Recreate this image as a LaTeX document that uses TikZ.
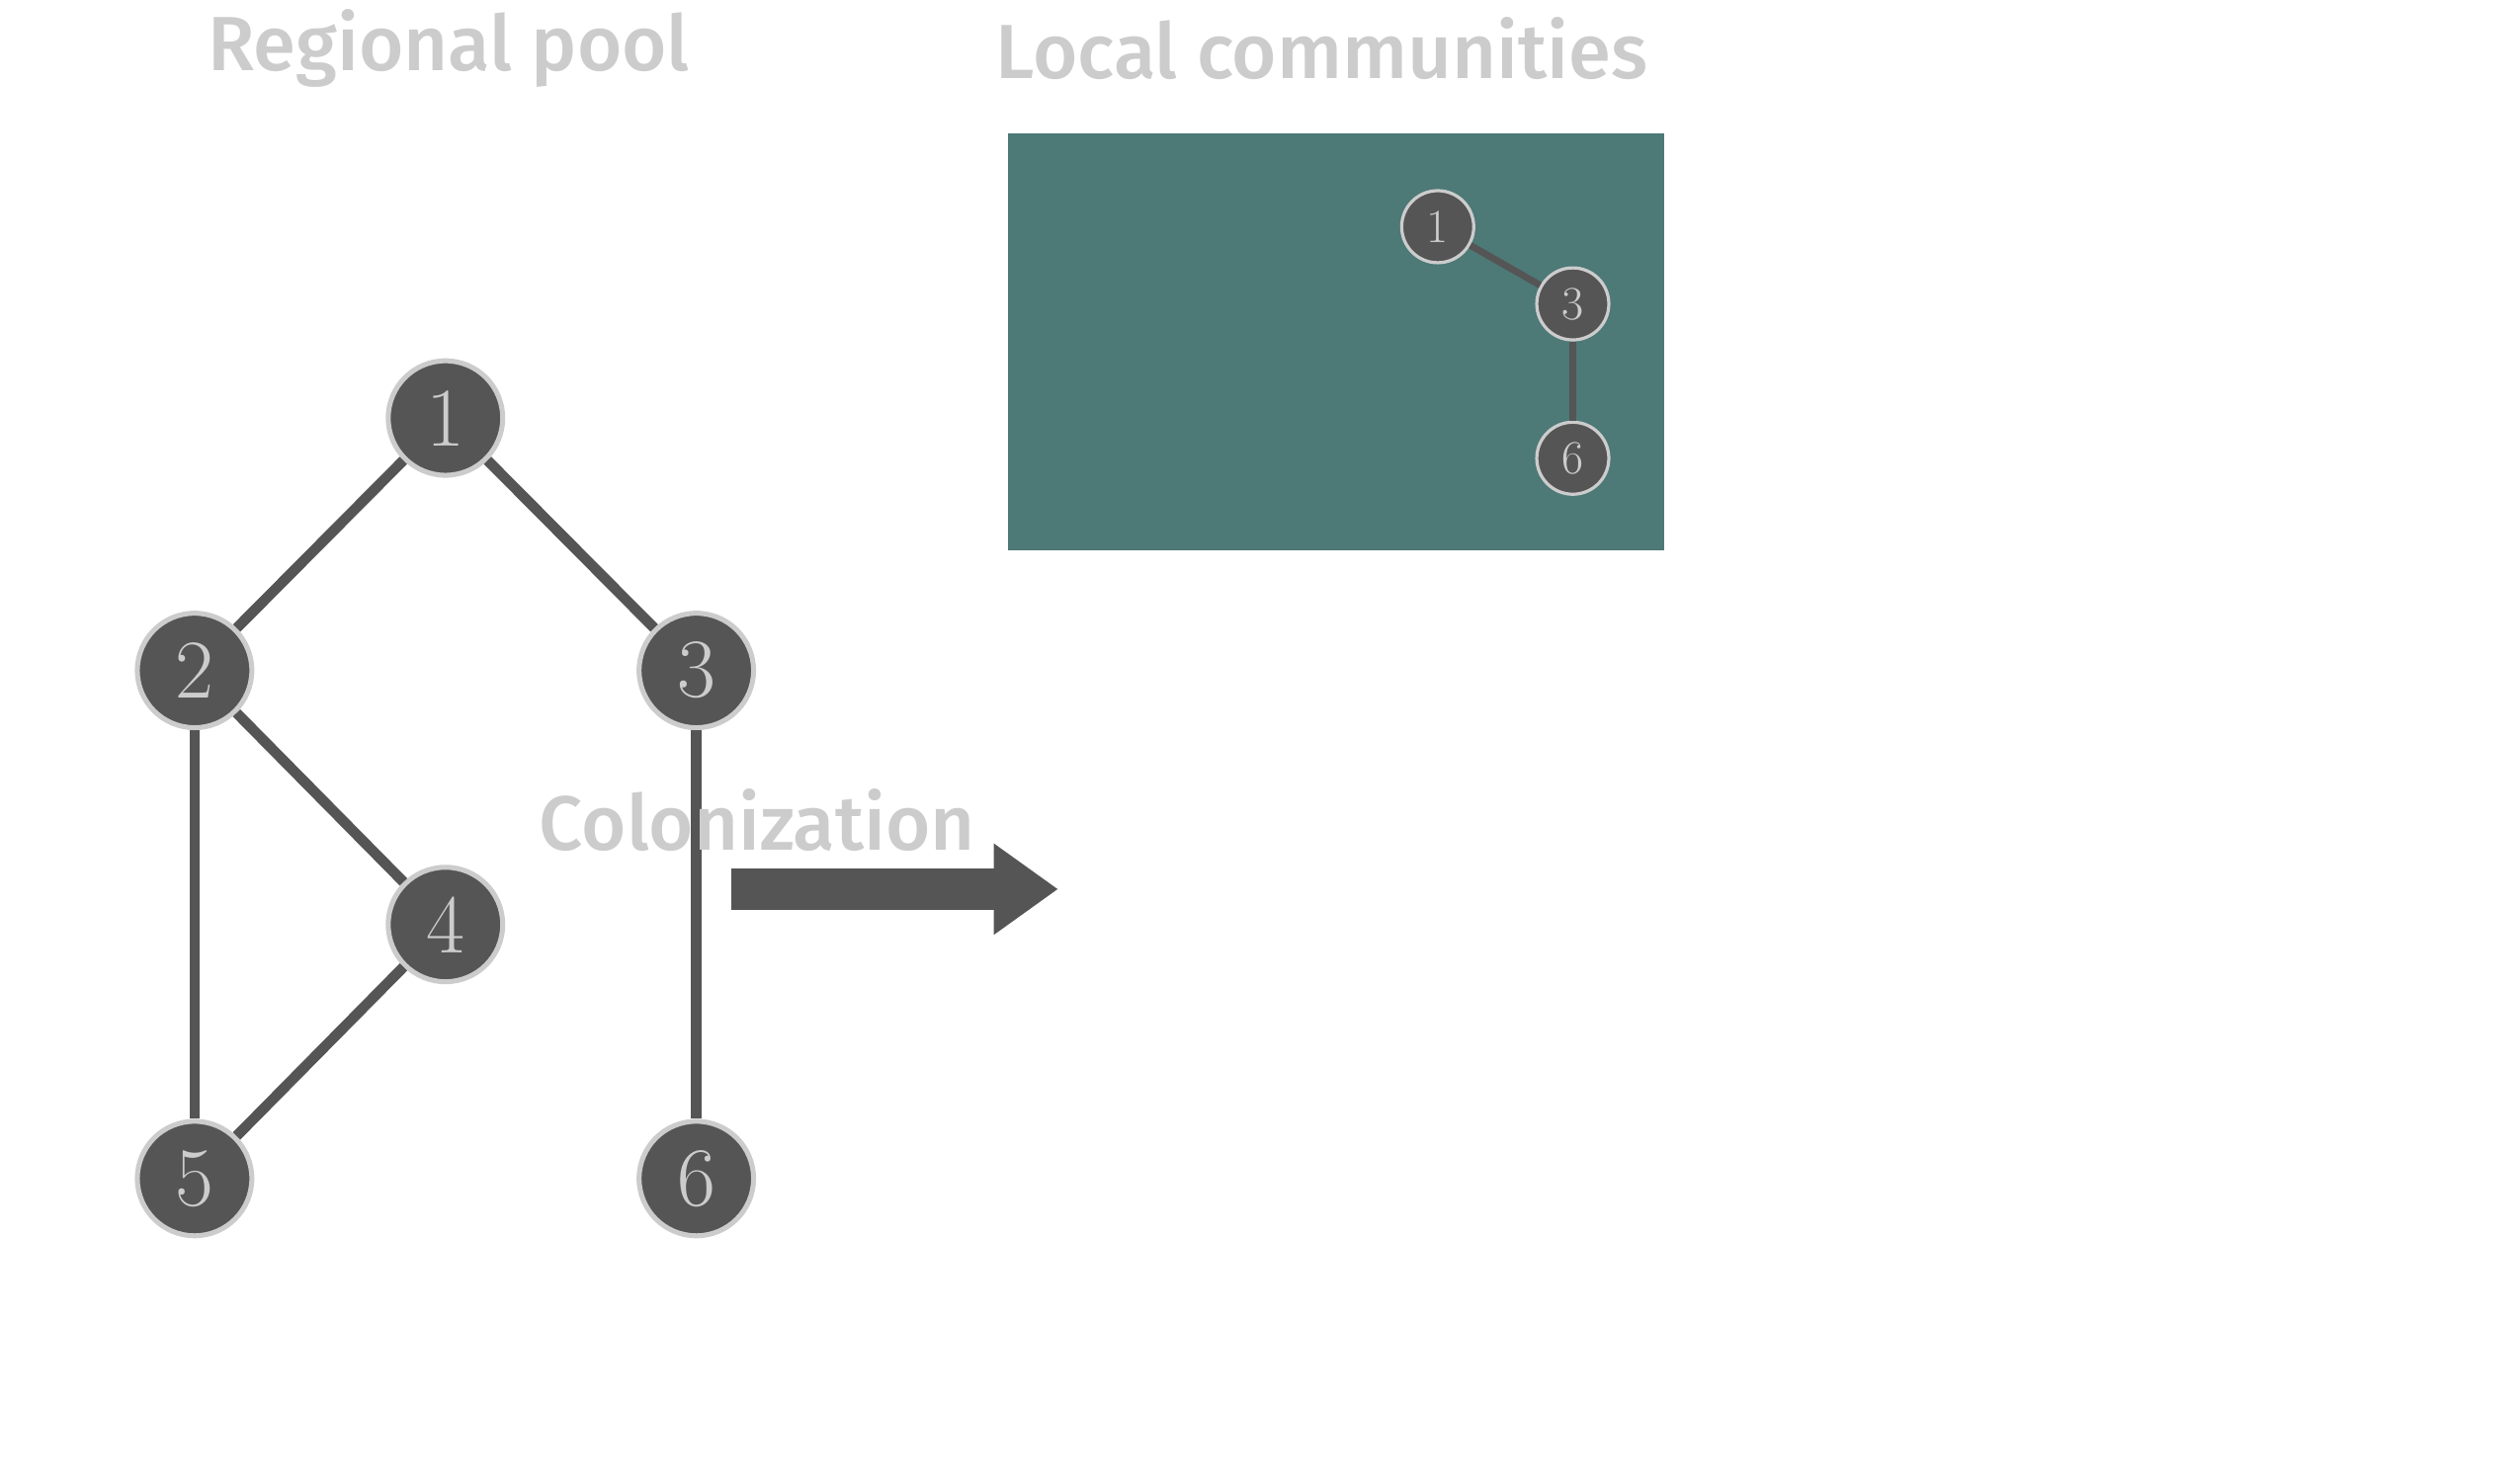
\documentclass[tikz,border=0pt]{standalone}
\usepackage{fontspec}
\newfontfamily\titlefont{Fira Sans Medium}
\usetikzlibrary{arrows.meta}
\definecolor{nodegray}{HTML}{555555}
\definecolor{lightgray}{HTML}{CCCCCC}
\definecolor{patchteal}{HTML}{4D7977}
\tikzset{
	pool/.style={circle, fill=nodegray, draw=lightgray, line width=2.2pt, minimum size=1.78cm, inner sep=0pt, text=lightgray, font=\fontsize{37}{37}\selectfont},
	local/.style={circle, fill=nodegray, draw=lightgray, line width=1.4pt, minimum size=1.12cm, inner sep=0pt, text=lightgray, font=\fontsize{21}{21}\selectfont},
	title/.style={text=lightgray, font=\titlefont\fontsize{34}{34}\selectfont},
	link/.style={draw=nodegray, line width=4.6pt},
	smalllink/.style={draw=nodegray, line width=3pt}
}
\begin{document}
\begin{tikzpicture}[x=0.025cm, y=-0.025cm]
			%%%%% START %%%%%
			
			\useasboundingbox (0, 0) rectangle (1567, 922);
			
			\node[title] (pooltitle) at (279, 30) {Regional pool};
			\node[title] (localtitle) at (822, 30) {Local communities};
			
			\node[pool] (p1) at (277, 260) {1};
			\node[pool] (p2) at (121, 417) {2};
			\node[pool] (p3) at (433, 417) {3};
			\node[pool] (p4) at (277, 575) {4};
			\node[pool] (p5) at (121, 733) {5};
			\node[pool] (p6) at (433, 733) {6};
			
			\draw[link] (p1) -- (p2);
			\draw[link] (p1) -- (p3);
			\draw[link] (p2) -- (p4);
			\draw[link] (p2) -- (p5);
			\draw[link] (p4) -- (p5);
			\draw[link] (p3) -- (p6);
			
			\node[title] (colon) at (471, 510) {Colonization};
			\coordinate (arrowstart) at (455, 553);
			\coordinate (arrowend) at (658, 553);
			\draw[draw=nodegray, line width=0.65cm, -{Triangle[length=1cm, width=1.35cm]}] (arrowstart) -- (arrowend);
			
			\fill[patchteal] (627, 83) rectangle (1035, 342);
			
			\node[local] (l1) at (894, 141) {1};
			\node[local] (l3) at (978, 189) {3};
			\node[local] (l6) at (978, 285) {6};
			\draw[smalllink] (l1) -- (l3);
			\draw[smalllink] (l3) -- (l6);
			
			%%%%% END %%%%%
\end{tikzpicture}
\end{document}
